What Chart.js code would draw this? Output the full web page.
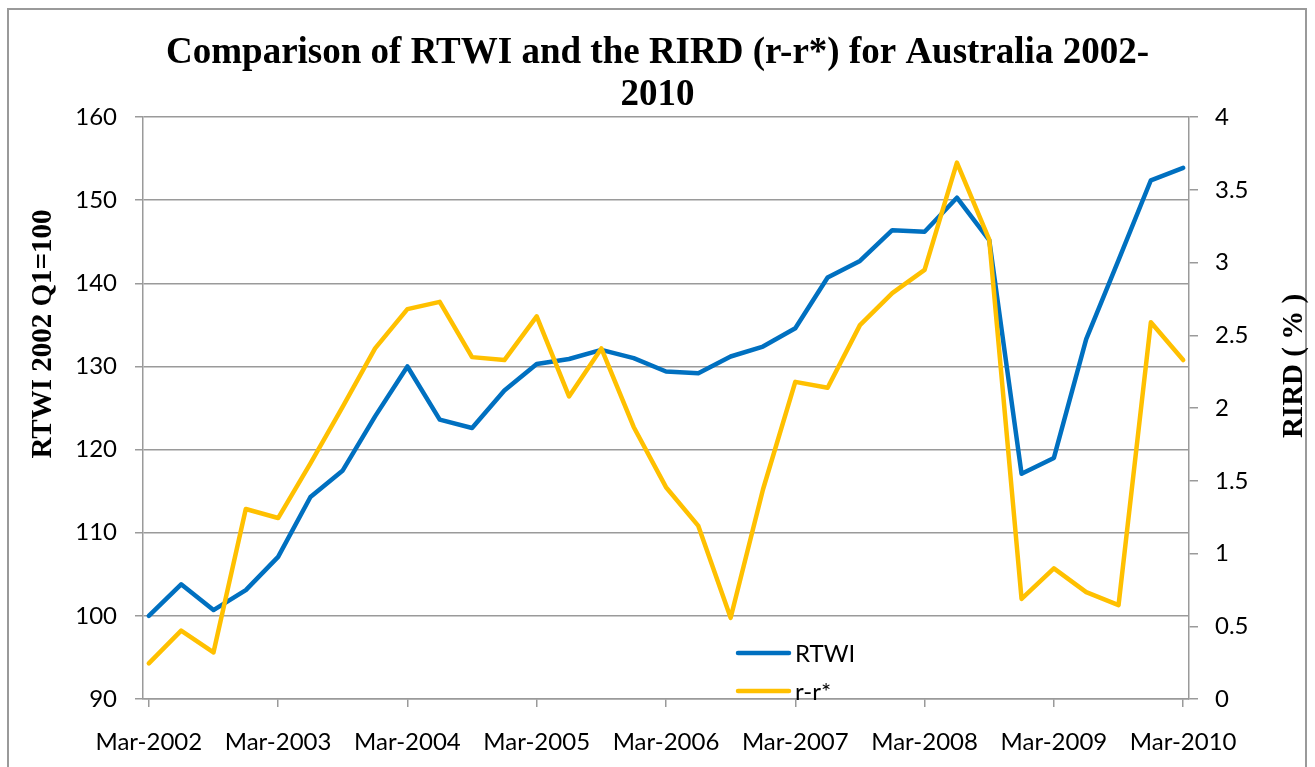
<!DOCTYPE html>
<html>
<head>
<meta charset="utf-8">
<script src="https://cdn.jsdelivr.net/npm/chart.js@4.4.1/dist/chart.umd.min.js"></script>
<style>
  html, body { margin: 0; padding: 0; background: #fff; overflow: hidden; }
  #moldura {
    position: absolute; left: 7px; top: 8px;
    width: 1296px; height: 800px;
    border: 2px solid #9a9a9a;
  }
  #grafico { position: absolute; left: 0; top: 0; }
</style>
</head>
<body>
<div id="moldura"></div>
<canvas id="grafico" width="1315" height="767"></canvas>
<script>
// dados (trimestres)
const trimestres = [
  "Mar-2002", "Jun-2002", "Sep-2002", "Dec-2002",
  "Mar-2003", "Jun-2003", "Sep-2003", "Dec-2003",
  "Mar-2004", "Jun-2004", "Sep-2004", "Dec-2004",
  "Mar-2005", "Jun-2005", "Sep-2005", "Dec-2005",
  "Mar-2006", "Jun-2006", "Sep-2006", "Dec-2006",
  "Mar-2007", "Jun-2007", "Sep-2007", "Dec-2007",
  "Mar-2008", "Jun-2008", "Sep-2008", "Dec-2008",
  "Mar-2009", "Jun-2009", "Sep-2009", "Dec-2009",
  "Mar-2010"
];

const rtwi = [
  100, 103.8, 100.7, 103.1, 107.1, 114.3, 117.5, 124.0,
  130.0, 123.6, 122.6, 127.1, 130.3, 130.9, 132.0, 131.0,
  129.4, 129.2, 131.2, 132.4, 134.6, 140.7, 142.7, 146.4,
  146.2, 150.3, 145.2, 117.1, 119.0, 133.3, 142.8, 152.4,
  153.9
];

const rird = [
  0.245, 0.47, 0.32, 1.306, 1.244, 1.62, 2.01, 2.41,
  2.68, 2.73, 2.35, 2.33, 2.63, 2.08, 2.41, 1.87,
  1.456, 1.19, 0.558, 1.44, 2.18, 2.14, 2.57, 2.79,
  2.95, 3.687, 3.157, 0.688, 0.898, 0.735, 0.645, 2.59,
  2.33
];

// rótulos do eixo x: um por ano (Mar)
const ticksX = [0, 4, 8, 12, 16, 20, 24, 28, 32];

const titulo = ["Comparison of RTWI and the RIRD (r-r*) for Australia 2002-", "2010"];
const tituloEsq = "RTWI 2002 Q1=100";
const tituloDir = "RIRD ( % )";

const azul = "#0070c0";
const amarelo = "#ffc000";
const cinza = "#9a9a9a";

const fonteTicks = { family: "Lato", size: 24 };

const pontos = (valores) => valores.map((v, i) => ({ x: i, y: v }));

// títulos dos eixos e legenda desenhados à mão (posição do Excel)
const extras = {
  id: "extras",
  afterDatasetsDraw(chart) {
    const ctx = chart.ctx;

    ctx.save();
    ctx.fillStyle = "#000";
    ctx.font = "bold 29px 'Liberation Serif'";
    ctx.textAlign = "center";
    ctx.textBaseline = "middle";

    ctx.save();
    ctx.translate(44, 334);
    ctx.rotate(-Math.PI / 2);
    ctx.fillText(tituloEsq, 0, 0);
    ctx.restore();

    ctx.save();
    ctx.translate(1295, 366);
    ctx.rotate(-Math.PI / 2);
    ctx.fillText(tituloDir, 0, 0);
    ctx.restore();

    // legenda dentro da área
    const x0 = 736;
    const linhas = [653, 691];
    ctx.font = "24px Lato";
    ctx.textAlign = "left";
    ctx.lineWidth = 4.5;
    ctx.lineCap = "round";
    chart.data.datasets.forEach((ds, i) => {
      ctx.strokeStyle = ds.borderColor;
      ctx.beginPath();
      ctx.moveTo(x0 + 2, linhas[i]);
      ctx.lineTo(x0 + 53, linhas[i]);
      ctx.stroke();
      ctx.fillStyle = "#000";
      ctx.fillText(ds.label, x0 + 59, linhas[i] + 1);
    });
    ctx.restore();
  }
};

new Chart(document.getElementById("grafico"), {
  type: "line",
  data: {
    datasets: [
      {
        label: "RTWI",
        data: pontos(rtwi),
        borderColor: azul,
        backgroundColor: azul,
        borderWidth: 4.5,
        yAxisID: "y",
        order: 2
      },
      {
        label: "r-r*",
        data: pontos(rird),
        borderColor: amarelo,
        backgroundColor: amarelo,
        borderWidth: 4.5,
        yAxisID: "y1",
        order: 1
      }
    ]
  },
  options: {
    responsive: false,
    animation: false,
    layout: { padding: 0 },
    elements: {
      point: { radius: 0 },
      line: { tension: 0, borderJoinStyle: "round", borderCapStyle: "round" }
    },
    plugins: {
      legend: { display: false },
      tooltip: { enabled: false },
      title: {
        display: true,
        text: titulo,
        color: "#000",
        font: { family: "Liberation Serif", size: 37, weight: "bold", lineHeight: 1.15 },
        padding: { top: 32, bottom: 0 }
      }
    },
    scales: {
      x: {
        type: "linear",
        min: -0.18,
        max: 32.18,
        afterFit: (scale) => { scale.height = 68; },
        afterBuildTicks: (scale) => {
          scale.ticks = ticksX.map(v => ({ value: v }));
        },
        ticks: {
          autoSkip: false,
          maxRotation: 0,
          color: "#000",
          font: fonteTicks,
          padding: 21,
          callback: (v) => trimestres[v]
        },
        grid: {
          drawOnChartArea: false,
          drawTicks: true,
          tickLength: 8,
          color: cinza,
          lineWidth: 1.5
        },
        border: { display: true, color: cinza, width: 1.5 }
      },
      y: {
        position: "left",
        min: 90,
        max: 160,
        afterFit: (scale) => { scale.width = 143; },
        ticks: {
          stepSize: 10,
          color: "#000",
          font: fonteTicks,
          padding: 18
        },
        grid: {
          color: cinza,
          lineWidth: 1.5,
          tickLength: 8
        },
        border: { display: true, color: cinza, width: 1.5 }
      },
      y1: {
        position: "right",
        min: 0,
        max: 4,
        afterFit: (scale) => { scale.width = 126; },
        ticks: {
          stepSize: 0.5,
          color: "#000",
          font: fonteTicks,
          padding: 17,
          callback: (v) => `${v}`
        },
        grid: {
          drawOnChartArea: false,
          color: cinza,
          lineWidth: 1.5,
          tickLength: 9
        },
        border: { display: true, color: cinza, width: 1.5 }
      }
    }
  },
  plugins: [extras]
});
</script>
</body>
</html>
